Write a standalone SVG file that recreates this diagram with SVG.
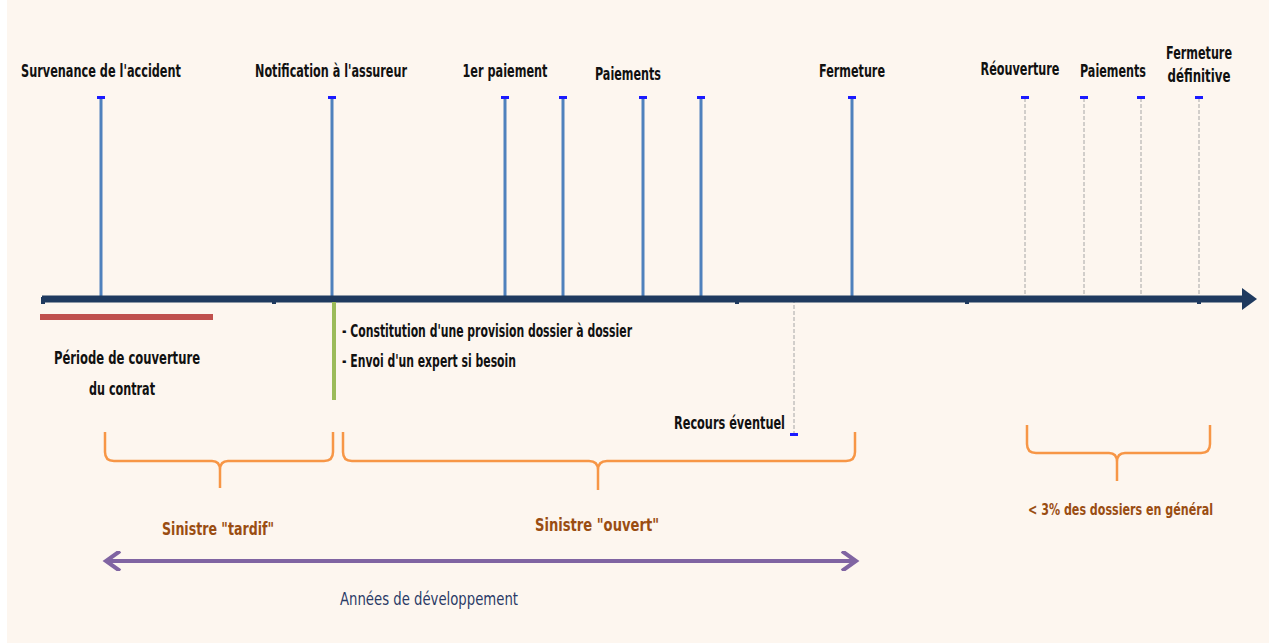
<svg xmlns="http://www.w3.org/2000/svg" width="1271" height="643" viewBox="0 0 1271 643">
<defs>
<style>
.t{font-family:"Liberation Sans Narrow","DejaVu Sans Condensed","Liberation Sans",sans-serif;font-stretch:condensed;font-size:17px;fill:#111;}
.b{font-weight:bold;}
.o{fill:#9a4d12;font-weight:bold;}
.n{fill:#2a3a66;}
.s{font-size:16px;}
.v{stroke:#4f81bd;stroke-width:3;fill:none;}
.d{stroke:#a6a6a6;stroke-width:1;stroke-dasharray:4 2;fill:none;}
.cap{fill:#1a1aff;}
.br{stroke:#f79646;stroke-width:2.5;fill:none;stroke-linejoin:round;}
.tk{fill:#1f3a5f;}
</style>
<marker id="pa" viewBox="0 0 10 10" refX="8" refY="5" markerWidth="5" markerHeight="5" orient="auto-start-reverse" markerUnits="strokeWidth">
<path d="M1,0 L8,5 L1,10" fill="none" stroke="#8064a2" stroke-width="2"/>
</marker>
</defs>
<rect x="0" y="0" width="1271" height="643" fill="#ffffff"/>
<rect x="7" y="0" width="1262" height="643" fill="#fdf6ef"/>

<g id="connectors">
<line class="v" x1="101" y1="98" x2="101" y2="299"/>
<line class="v" x1="332" y1="98" x2="332" y2="299"/>
<line class="v" x1="505" y1="98" x2="505" y2="299"/>
<line class="v" x1="563" y1="98" x2="563" y2="299"/>
<line class="v" x1="643" y1="98" x2="643" y2="299"/>
<line class="v" x1="701" y1="98" x2="701" y2="299"/>
<line class="v" x1="852" y1="98" x2="852" y2="299"/>
<line class="d" x1="1025" y1="98" x2="1025" y2="299"/>
<line class="d" x1="1084" y1="98" x2="1084" y2="299"/>
<line class="d" x1="1141" y1="98" x2="1141" y2="299"/>
<line class="d" x1="1199" y1="98" x2="1199" y2="299"/>
<line class="d" x1="794" y1="299" x2="794" y2="433"/>
<rect class="cap" x="97" y="96" width="8" height="3"/>
<rect class="cap" x="328" y="96" width="8" height="3"/>
<rect class="cap" x="501" y="96" width="8" height="3"/>
<rect class="cap" x="559" y="96" width="8" height="3"/>
<rect class="cap" x="639" y="96" width="8" height="3"/>
<rect class="cap" x="697" y="96" width="8" height="3"/>
<rect class="cap" x="848" y="96" width="8" height="3"/>
<rect class="cap" x="1021" y="96" width="8" height="3"/>
<rect class="cap" x="1080" y="96" width="8" height="3"/>
<rect class="cap" x="1137" y="96" width="8" height="3"/>
<rect class="cap" x="1195" y="96" width="8" height="3"/>
<rect class="cap" x="790" y="433" width="8" height="3"/>
<rect x="42" y="295.5" width="1203" height="7" fill="#1f3a5f"/>
<path d="M1242,288 L1257,299 L1242,310 Z" fill="#1f3a5f"/>
<rect class="tk" x="41" y="297" width="4" height="7"/>
<rect class="tk" x="272" y="300" width="4" height="4"/>
<rect class="tk" x="735" y="300" width="4" height="4"/>
<rect class="tk" x="965" y="300" width="4" height="4"/>
<rect class="tk" x="1197" y="300" width="4" height="4"/>
<rect x="40" y="314" width="173" height="6" fill="#c0504d"/>
<rect x="332" y="302" width="4" height="98" fill="#9bbb59"/>
<path class="br" d="M105,432 V452 Q105,461 114,461 H212 Q220,461 220,470 V488 M220,470 Q220,461 228,461 H324 Q333,461 333,452 V432"/>
<path class="br" d="M343,432 V452 Q343,461 352,461 H589 Q598,461 598,470 V490 M598,470 Q598,461 607,461 H846 Q855,461 855,452 V432"/>
<path class="br" d="M1027,425 V444 Q1027,453 1036,453 H1109 Q1117,453 1117,462 V481 M1117,462 Q1117,453 1125,453 H1201 Q1210,453 1210,444 V425"/>
<line x1="106" y1="561" x2="856" y2="561" stroke="#8064a2" stroke-width="4" marker-start="url(#pa)" marker-end="url(#pa)"/>
</g>

<g id="label-survenance"><text class="t b" x="101" y="77" text-anchor="middle" textLength="160" lengthAdjust="spacingAndGlyphs">Survenance de l'accident</text></g>
<g id="label-notification"><text class="t b" x="331" y="77" text-anchor="middle" textLength="152" lengthAdjust="spacingAndGlyphs">Notification à l'assureur</text></g>
<g id="label-1er"><text class="t b" x="505" y="77" text-anchor="middle" textLength="85" lengthAdjust="spacingAndGlyphs">1er paiement</text></g>
<g id="label-paiements1"><text class="t b" x="628" y="80" text-anchor="middle" textLength="66" lengthAdjust="spacingAndGlyphs">Paiements</text></g>
<g id="label-fermeture"><text class="t b" x="852" y="77" text-anchor="middle" textLength="66" lengthAdjust="spacingAndGlyphs">Fermeture</text></g>
<g id="label-reouverture"><text class="t b" x="1020" y="75" text-anchor="middle" textLength="79" lengthAdjust="spacingAndGlyphs">Réouverture</text></g>
<g id="label-paiements2"><text class="t b" x="1113" y="77" text-anchor="middle" textLength="66" lengthAdjust="spacingAndGlyphs">Paiements</text></g>
<g id="label-fermeture-def">
<text class="t b" x="1199" y="59" text-anchor="middle" textLength="66" lengthAdjust="spacingAndGlyphs">Fermeture</text>
<text class="t b" x="1199" y="82" text-anchor="middle" textLength="63" lengthAdjust="spacingAndGlyphs">définitive</text>
</g>
<g id="label-periode">
<text class="t b" x="127" y="364" text-anchor="middle" textLength="146" lengthAdjust="spacingAndGlyphs">Période de couverture</text>
<text class="t b" x="122" y="395" text-anchor="middle" textLength="66" lengthAdjust="spacingAndGlyphs">du contrat</text>
</g>
<g id="label-actions">
<text class="t b" x="342" y="337" textLength="290" lengthAdjust="spacingAndGlyphs">- Constitution d'une provision dossier à dossier</text>
<text class="t b" x="342" y="367" textLength="174" lengthAdjust="spacingAndGlyphs">- Envoi d'un expert si besoin</text>
</g>
<g id="label-recours"><text class="t b" x="674" y="429" textLength="111" lengthAdjust="spacingAndGlyphs">Recours éventuel</text></g>
<g id="label-tardif"><text class="t o" x="218" y="535" text-anchor="middle" textLength="112" lengthAdjust="spacingAndGlyphs">Sinistre "tardif"</text></g>
<g id="label-ouvert"><text class="t o" x="597" y="531" text-anchor="middle" textLength="124" lengthAdjust="spacingAndGlyphs">Sinistre "ouvert"</text></g>
<g id="label-pct"><text class="t o s" x="1028" y="515" textLength="185" lengthAdjust="spacingAndGlyphs">&lt; 3% des dossiers en général</text></g>
<g id="label-annees"><text class="t n" x="429" y="605" text-anchor="middle" textLength="178" lengthAdjust="spacingAndGlyphs">Années de développement</text></g>
</svg>
